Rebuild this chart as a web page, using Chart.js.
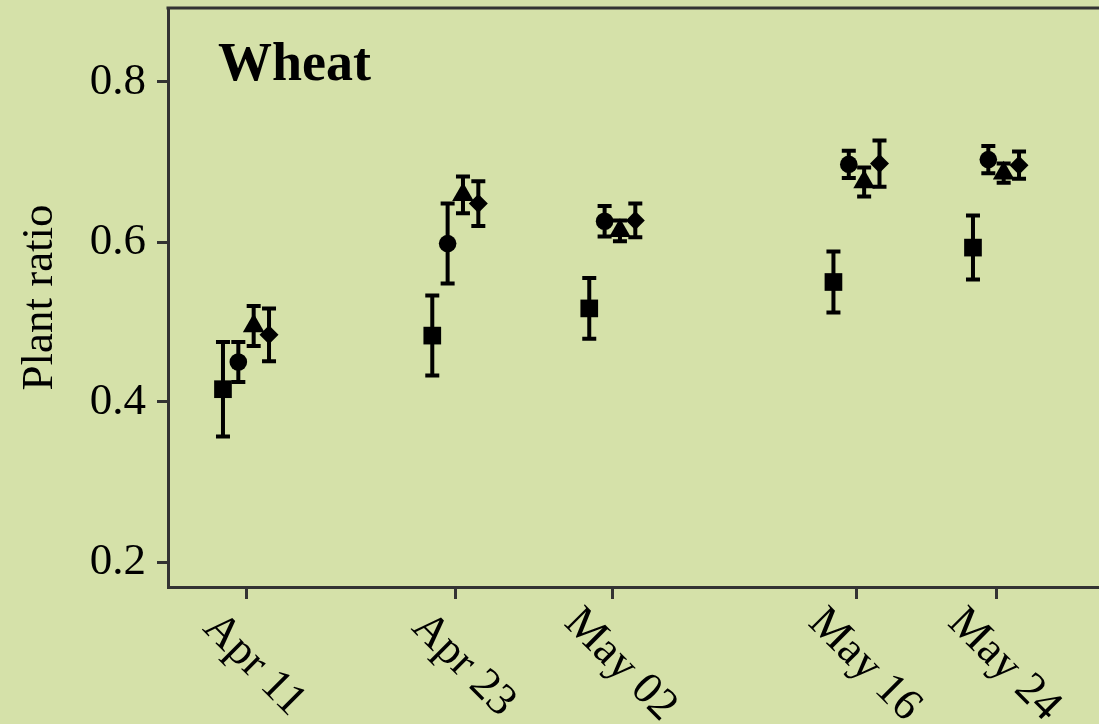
<!DOCTYPE html>
<html>
<head>
<meta charset="utf-8">
<script src="https://cdn.jsdelivr.net/npm/chart.js@4.4.1/dist/chart.umd.min.js"></script>
<style>
  html, body { margin: 0; padding: 0; background: #d5e1a9; overflow: hidden; }
  #wrap { width: 1099px; height: 724px; position: relative; }
</style>
</head>
<body>
<div id="wrap"><canvas id="graficoWheat"></canvas></div>
<script>
// dados
const dateLabels = ['Apr 11', 'Apr 23', 'May 02', 'May 16', 'May 24'];
const dayNumbers = [0, 12, 21, 35, 43]; // dias depois de Apr 11
const yTicks = [0.2, 0.4, 0.6, 0.8];

const squareMean   = [0.416, 0.483, 0.517, 0.550, 0.593];
const squareErr    = [0.059, 0.050, 0.038, 0.038, 0.040];
const circleMean   = [0.450, 0.598, 0.626, 0.697, 0.703];
const circleErr    = [0.025, 0.050, 0.019, 0.017, 0.017];
const triangleMean = [0.495, 0.659, 0.614, 0.675, 0.686];
const triangleErr  = [0.025, 0.023, 0.013, 0.018, 0.012];
const diamondMean  = [0.484, 0.648, 0.627, 0.698, 0.696];
const diamondErr   = [0.033, 0.028, 0.021, 0.029, 0.017];

const series = [
    { name: 'square',   mean: squareMean,   err: squareErr,   style: 'rect',    radius: 12.5 },
    { name: 'circle',   mean: circleMean,   err: circleErr,   style: 'circle',  radius: 8.8 },
    { name: 'triangle', mean: triangleMean, err: triangleErr, style: 'triangle', radius: 12.5 },
    { name: 'diamond',  mean: diamondMean,  err: diamondErr,  style: 'rectRot', radius: 9.5 }
];
const dodge = [-1.32, -0.44, 0.44, 1.32]; // deslocamento em dias

const frameColor = '#333333';
const bgColor = '#d5e1a9';
const serif = '"Liberation Serif", "Times New Roman", serif';

var extras = {
    id: 'extras',
    beforeDraw: function (chart) {
        const ctx = chart.ctx;
        ctx.save();
        ctx.fillStyle = bgColor;
        ctx.fillRect(0, 0, chart.width, chart.height);
        ctx.restore();
    },
    beforeDatasetsDraw: function (chart) {
        // barras de erro
        const ctx = chart.ctx;
        const x = chart.scales.x, y = chart.scales.y;
        ctx.save();
        ctx.strokeStyle = '#000';
        ctx.lineWidth = 4;
        series.forEach(function (s, i) {
            s.mean.forEach(function (m, j) {
                const px = x.getPixelForValue(dayNumbers[j] + dodge[i]);
                const top = y.getPixelForValue(m + s.err[j]);
                const bot = y.getPixelForValue(m - s.err[j]);
                ctx.beginPath();
                ctx.moveTo(px, top); ctx.lineTo(px, bot);
                ctx.moveTo(px - 7, top); ctx.lineTo(px + 7, top);
                ctx.moveTo(px - 7, bot); ctx.lineTo(px + 7, bot);
                ctx.stroke();
            });
        });
        ctx.restore();
    },
    afterDraw: function (chart) {
        const ctx = chart.ctx;
        const area = chart.chartArea;
        const x = chart.scales.x;
        ctx.save();
        // linha de cima do quadro
        ctx.strokeStyle = frameColor;
        ctx.lineWidth = 3;
        ctx.beginPath();
        ctx.moveTo(area.left - 1.5, area.top);
        ctx.lineTo(area.right, area.top);
        ctx.stroke();

        // rotulos do eixo x, girados 45 graus para baixo
        ctx.fillStyle = '#000';
        ctx.font = '45px ' + serif;
        ctx.textAlign = 'center';
        ctx.textBaseline = 'middle';
        dateLabels.forEach(function (lab, j) {
            const px = x.getPixelForValue(dayNumbers[j]);
            ctx.save();
            ctx.translate(px + 8, area.bottom + 78);
            ctx.rotate(Math.PI / 4);
            ctx.fillText(lab, 0, 0);
            ctx.restore();
        });

        // titulo do painel
        ctx.font = 'bold 54px ' + serif;
        ctx.textAlign = 'left';
        ctx.textBaseline = 'alphabetic';
        ctx.fillText('Wheat', area.left + 50, area.top + 72);
        ctx.restore();
    }
};

var ctx = document.getElementById('graficoWheat').getContext('2d');

var graficoWheat = new Chart(ctx, {
    type: 'scatter',
    data: {
        datasets: series.map(function (s, i) {
            return {
                label: s.name,
                data: s.mean.map(function (m, j) { return { x: dayNumbers[j] + dodge[i], y: m }; }),
                pointStyle: s.style,
                pointRadius: s.radius,
                pointHoverRadius: s.radius,
                pointBorderWidth: 0,
                backgroundColor: '#000',
                borderColor: '#000'
            };
        })
    },
    options: {
        responsive: true,
        maintainAspectRatio: false,
        animation: false,
        layout: { autoPadding: false, padding: { top: 8, left: 0, right: 0, bottom: 0 } },
        plugins: {
            legend: { display: false },
            tooltip: { enabled: false }
        },
        scales: {
            x: {
                type: 'linear',
                min: -4.472,
                max: 48.905,
                afterBuildTicks: function (scale) {
                    scale.ticks = dayNumbers.map(function (v) { return { value: v }; });
                },
                afterFit: function (scale) {
                    scale.height = 137;
                    scale.paddingLeft = 0; scale.paddingRight = 0;
                },
                ticks: { display: false },
                grid: {
                    drawOnChartArea: false,
                    drawTicks: true,
                    tickLength: 12,
                    tickWidth: 3,
                    tickColor: frameColor,
                    color: frameColor,
                    lineWidth: 3
                },
                border: { display: true, color: frameColor, width: 3 }
            },
            y: {
                min: 0.16875,
                max: 0.8925,
                afterBuildTicks: function (scale) {
                    scale.ticks = yTicks.map(function (v) { return { value: v }; });
                },
                afterFit: function (scale) {
                    scale.width = 168;
                    scale.paddingTop = 0; scale.paddingBottom = 0;
                },
                ticks: {
                    color: '#000',
                    padding: 11,
                    font: { family: serif, size: 45 },
                    callback: function (value) { return value.toFixed(1); }
                },
                grid: {
                    drawOnChartArea: false,
                    drawTicks: true,
                    tickLength: 11,
                    tickWidth: 3,
                    tickColor: frameColor,
                    color: frameColor,
                    lineWidth: 3
                },
                border: { display: true, color: frameColor, width: 3 },
                title: {
                    display: true,
                    text: 'Plant ratio',
                    color: '#000',
                    font: { family: serif, size: 45 },
                    padding: { top: 13, bottom: 0 }
                }
            }
        }
    },
    plugins: [extras]
});
</script>
</body>
</html>
